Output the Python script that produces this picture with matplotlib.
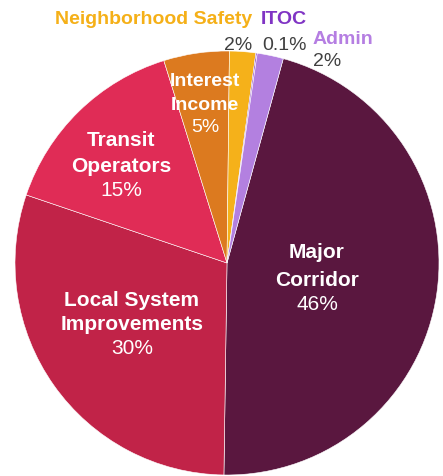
import matplotlib
matplotlib.use("Agg")
import matplotlib.pyplot as plt

# slice data, clockwise from Major Corridor
names = ["Major\nCorridor", "Local System\nImprovements", "Transit\nOperators",
         "Interest\nIncome", "Neighborhood Safety", "ITOC", "Admin"]
shares = [46, 30, 15, 5, 2, 0.1, 2]
pct_labels = ["46%", "30%", "15%", "5%", "2%", "0.1%", "2%"]
colors = ["#5a173f", "#c12348", "#e02c56", "#dc7a1f", "#f5b11a", "#7b2fc0", "#b380e0"]
label_colors = [None, None, None, None, "#f5b018", "#8034c4", "#b57ee2"]

plt.rcParams["font.family"] = ["Liberation Sans", "DejaVu Sans"]

W, H = 443, 477
fig = plt.figure(figsize=(W / 100, H / 100), dpi=100)
ax = fig.add_axes([0, 0, 1, 1])

cx, cy, r = 227, H - 264, 212
ax.pie(shares, colors=colors, startangle=74.6, counterclock=False,
       center=(cx, cy), radius=r,
       wedgeprops=dict(edgecolor="white", linewidth=0.4), frame=True)
ax.set_xlim(0, W)
ax.set_ylim(0, H)
ax.set_aspect("equal")
ax.axis("off")

# inside labels: x, y of each name line, y of pct, font size (image pixels)
inside = {0: (317, (253, 280), 305, 15), 1: (132, (300, 325), 349, 15),
          2: (121, (141, 167), 190, 15), 3: (205, (82, 105), 128, 14)}
for i, (x, ys, yp, fs) in inside.items():
    for line, y in zip(names[i].split("\n"), ys):
        ax.text(x, H - y, line, color="white", fontsize=fs, fontweight="bold",
                ha="center", va="center")
    ax.text(x, H - yp, pct_labels[i], color="white", fontsize=fs,
            ha="center", va="center")

# outside labels
outside = {4: ((154, 20), (238, 45)), 5: ((284, 20), (285, 45)), 6: ((343, 40), (327, 62))}
for i, ((xn, yn), (xp, yp)) in outside.items():
    ax.text(xn, H - yn, names[i], color=label_colors[i], fontsize=14, fontweight="bold",
            ha="center", va="center")
    ax.text(xp, H - yp, pct_labels[i], color="#404040", fontsize=14,
            ha="center", va="center")

fig.savefig("out.png", dpi=100)
